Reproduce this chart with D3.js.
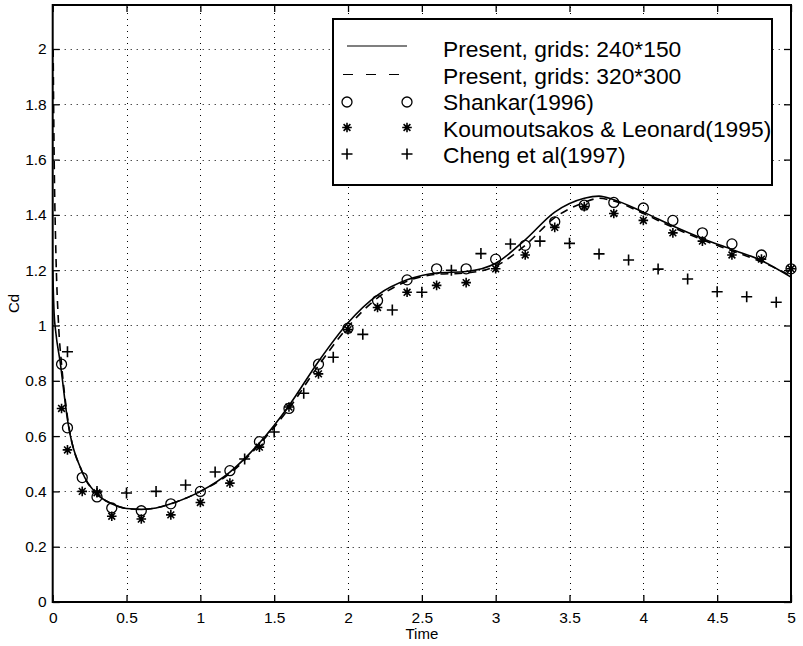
<!DOCTYPE html>
<html>
<head>
<meta charset="utf-8">
<script src="https://cdn.jsdelivr.net/npm/d3@7"></script>
<style>
  html, body { margin: 0; padding: 0; background: #fff; }
  svg { display: block; font-family: "Liberation Sans", Arial, Helvetica, sans-serif; }
</style>
</head>
<body>
<svg id="chart" width="803" height="646"></svg>
<script>
// Drag coefficient history: present computations and reference results
const timeGrid240 = [0, 0.01, 0.02, 0.05, 0.1, 0.2, 0.3, 0.4, 0.5, 0.6, 0.7, 0.8, 1.0, 1.2, 1.4, 1.6, 1.8, 2.0, 2.2, 2.4, 2.6, 2.8, 3.0, 3.2, 3.4, 3.6, 3.7, 3.8, 4.0, 4.2, 4.4, 4.6, 4.8, 5.0];
const cdGrid240   = [1.2, 1.04, 0.98, 0.87, 0.66, 0.47, 0.39, 0.355, 0.338, 0.335, 0.34, 0.355, 0.40, 0.47, 0.575, 0.71, 0.87, 1.01, 1.11, 1.165, 1.19, 1.195, 1.225, 1.31, 1.41, 1.46, 1.468, 1.455, 1.41, 1.36, 1.315, 1.275, 1.235, 1.175];

const timeGrid320 = [0.003, 0.01, 0.02, 0.04, 0.06, 0.1, 0.2, 0.3, 0.4, 0.5, 0.6, 0.7, 0.8, 1.0, 1.2, 1.4, 1.6, 1.8, 2.0, 2.2, 2.4, 2.6, 2.8, 3.0, 3.2, 3.4, 3.6, 3.7, 3.8, 4.0, 4.2, 4.4, 4.6, 4.8, 5.0];
const cdGrid320   = [2.0, 1.6, 1.3, 1.0, 0.86, 0.67, 0.47, 0.39, 0.355, 0.338, 0.335, 0.34, 0.355, 0.40, 0.465, 0.57, 0.70, 0.855, 0.995, 1.10, 1.16, 1.185, 1.19, 1.215, 1.29, 1.39, 1.445, 1.46, 1.45, 1.405, 1.355, 1.31, 1.27, 1.23, 1.18];

const timeShankar = [0.06, 0.1, 0.2, 0.3, 0.4, 0.6, 0.8, 1.0, 1.2, 1.4, 1.6, 1.8, 2.0, 2.2, 2.4, 2.6, 2.8, 3.0, 3.2, 3.4, 3.6, 3.8, 4.0, 4.2, 4.4, 4.6, 4.8, 5.0];
const cdShankar   = [0.86, 0.63, 0.45, 0.38, 0.34, 0.33, 0.355, 0.40, 0.475, 0.58, 0.70, 0.86, 0.99, 1.09, 1.165, 1.205, 1.205, 1.24, 1.29, 1.375, 1.435, 1.445, 1.425, 1.38, 1.335, 1.295, 1.255, 1.205];

const timeKoumoutsakos = [0.06, 0.1, 0.2, 0.3, 0.4, 0.6, 0.8, 1.0, 1.2, 1.4, 1.6, 1.8, 2.0, 2.2, 2.4, 2.6, 2.8, 3.0, 3.2, 3.4, 3.6, 3.8, 4.0, 4.2, 4.4, 4.6, 4.8, 5.0];
const cdKoumoutsakos   = [0.70, 0.55, 0.40, 0.395, 0.31, 0.30, 0.315, 0.36, 0.43, 0.56, 0.705, 0.825, 0.985, 1.065, 1.12, 1.145, 1.155, 1.205, 1.255, 1.355, 1.43, 1.405, 1.38, 1.335, 1.305, 1.255, 1.24, 1.205];

const timeCheng = [0.1, 0.3, 0.5, 0.7, 0.9, 1.1, 1.3, 1.5, 1.7, 1.9, 2.1, 2.3, 2.5, 2.7, 2.9, 3.1, 3.3, 3.5, 3.7, 3.9, 4.1, 4.3, 4.5, 4.7, 4.9];
const cdCheng   = [0.905, 0.40, 0.394, 0.40, 0.423, 0.47, 0.517, 0.615, 0.755, 0.885, 0.968, 1.056, 1.12, 1.20, 1.26, 1.295, 1.305, 1.297, 1.259, 1.237, 1.204, 1.168, 1.122, 1.104, 1.084];

const xTicks = [0, 0.5, 1, 1.5, 2, 2.5, 3, 3.5, 4, 4.5, 5];
const yTicks = [0, 0.2, 0.4, 0.6, 0.8, 1, 1.2, 1.4, 1.6, 1.8, 2];
const legendLabels = ["Present, grids: 240*150", "Present, grids: 320*300", "Shankar(1996)", "Koumoutsakos & Leonard(1995)", "Cheng et al(1997)"];

const svg = d3.select("#chart");
const plotLeft = 52.7, plotRight = 791, plotTop = 5, plotBottom = 602;

const x = d3.scaleLinear().domain([0, 5]).range([plotLeft, plotRight]);
const y = d3.scaleLinear().domain([0, 2.1591]).range([plotBottom, plotTop]);

// dotted grid
const grid = svg.append("g").attr("stroke", "#000").attr("stroke-width", 1).attr("stroke-dasharray", "1,5");
grid.selectAll("line.gx").data(xTicks.slice(1, -1)).join("line")
  .attr("x1", d => Math.round(x(d)) + 0.5).attr("x2", d => Math.round(x(d)) + 0.5)
  .attr("y1", plotBottom).attr("y2", plotTop);
grid.selectAll("line.gy").data(yTicks.slice(1)).join("line")
  .attr("y1", d => Math.round(y(d)) + 0.5).attr("y2", d => Math.round(y(d)) + 0.5)
  .attr("x1", plotLeft).attr("x2", plotRight);

// curves
svg.append("clipPath").attr("id", "plotArea").append("rect")
  .attr("x", plotLeft).attr("y", plotTop).attr("width", plotRight - plotLeft).attr("height", plotBottom - plotTop);

const line = d3.line().x(d => x(d[0])).y(d => y(d[1])).curve(d3.curveMonotoneX);
const plot = svg.append("g").attr("clip-path", "url(#plotArea)");

plot.append("path").datum(d3.zip(timeGrid240, cdGrid240))
  .attr("d", line).attr("fill", "none").attr("stroke", "#000").attr("stroke-width", 1.6);
plot.append("path").datum(d3.zip(timeGrid320, cdGrid320))
  .attr("d", line).attr("fill", "none").attr("stroke", "#000").attr("stroke-width", 1.6)
  .attr("stroke-dasharray", "8,6");

// marker shapes
function circleMark(g, cx, cy) {
  g.append("circle").attr("cx", cx).attr("cy", cy).attr("r", 5)
    .attr("fill", "none").attr("stroke", "#000").attr("stroke-width", 1.3);
}
function starMark(g, cx, cy) {
  const r = 4.8, d = r * Math.SQRT1_2;
  const p = `M${cx - r},${cy}L${cx + r},${cy}M${cx},${cy - r}L${cx},${cy + r}` +
            `M${cx - d},${cy - d}L${cx + d},${cy + d}M${cx - d},${cy + d}L${cx + d},${cy - d}`;
  g.append("path").attr("d", p).attr("stroke", "#000").attr("stroke-width", 1.6).attr("fill", "none");
}
function plusMark(g, cx, cy) {
  const r = 5.5;
  g.append("path").attr("d", `M${cx - r},${cy}L${cx + r},${cy}M${cx},${cy - r}L${cx},${cy + r}`)
    .attr("stroke", "#000").attr("stroke-width", 1.6).attr("fill", "none");
}

const marks = svg.append("g");
timeShankar.forEach((t, i) => circleMark(marks, x(t), y(cdShankar[i])));
timeKoumoutsakos.forEach((t, i) => starMark(marks, x(t), y(cdKoumoutsakos[i])));
timeCheng.forEach((t, i) => plusMark(marks, x(t), y(cdCheng[i])));

// axes with inward ticks on all four sides
const tickLen = 7;
const axB = svg.append("g").attr("transform", `translate(0,${plotBottom})`)
  .call(d3.axisBottom(x).tickValues(xTicks).tickSizeInner(-tickLen).tickSizeOuter(0).tickPadding(10)
    .tickFormat(d3.format("~g")));
const axT = svg.append("g").attr("transform", `translate(0,${plotTop})`)
  .call(d3.axisTop(x).tickValues(xTicks).tickSizeInner(-tickLen).tickSizeOuter(0).tickFormat(""));
const axL = svg.append("g").attr("transform", `translate(${plotLeft},0)`)
  .call(d3.axisLeft(y).tickValues(yTicks).tickSizeInner(-tickLen).tickSizeOuter(0).tickPadding(6)
    .tickFormat(d3.format("~g")));
const axR = svg.append("g").attr("transform", `translate(${plotRight},0)`)
  .call(d3.axisRight(y).tickValues(yTicks).tickSizeInner(-tickLen).tickSizeOuter(0).tickFormat(""));

[axB, axT, axL, axR].forEach(a => {
  a.select(".domain").remove();
  a.selectAll(".tick line").attr("stroke", "#000").attr("stroke-width", 1.3);
  a.selectAll("text").attr("fill", "#000").attr("font-size", 15.5)
    .attr("font-family", "'Liberation Sans', Arial, sans-serif");
});

svg.append("rect").attr("x", plotLeft).attr("y", plotTop).attr("width", plotRight - plotLeft).attr("height", plotBottom - plotTop)
  .attr("fill", "none").attr("stroke", "#000").attr("stroke-width", 2);

// axis titles
svg.append("text").attr("x", (plotLeft + plotRight) / 2).attr("y", 639).attr("text-anchor", "middle")
  .attr("font-size", 15).text("Time");
svg.append("text").attr("transform", `translate(19,${(plotTop + plotBottom) / 2}) rotate(-90)`)
  .attr("text-anchor", "middle").attr("font-size", 15).text("Cd");

// legend
const lg = svg.append("g");
lg.append("rect").attr("x", 333).attr("y", 19).attr("width", 439).attr("height", 166)
  .attr("fill", "#fff").attr("stroke", "#000").attr("stroke-width", 2);
const rowBase = [57, 83.5, 110, 136.5, 163];
legendLabels.forEach((lab, i) => {
  lg.append("text").attr("x", 443).attr("y", rowBase[i]).attr("font-size", 22.8).text(lab);
});
const sy = rowBase.map(b => b - 9);
lg.append("line").attr("x1", 347).attr("x2", 407).attr("y1", sy[0] - 2).attr("y2", sy[0] - 2)
  .attr("stroke", "#000").attr("stroke-width", 1.2);
lg.append("line").attr("x1", 343).attr("x2", 400).attr("y1", sy[1]).attr("y2", sy[1])
  .attr("stroke", "#000").attr("stroke-width", 1.2).attr("stroke-dasharray", "10,13");
circleMark(lg, 347, sy[2] + 1); circleMark(lg, 407, sy[2] + 1);
starMark(lg, 347, sy[3]); starMark(lg, 407, sy[3]);
plusMark(lg, 347, sy[4]); plusMark(lg, 407, sy[4]);
</script>
</body>
</html>
